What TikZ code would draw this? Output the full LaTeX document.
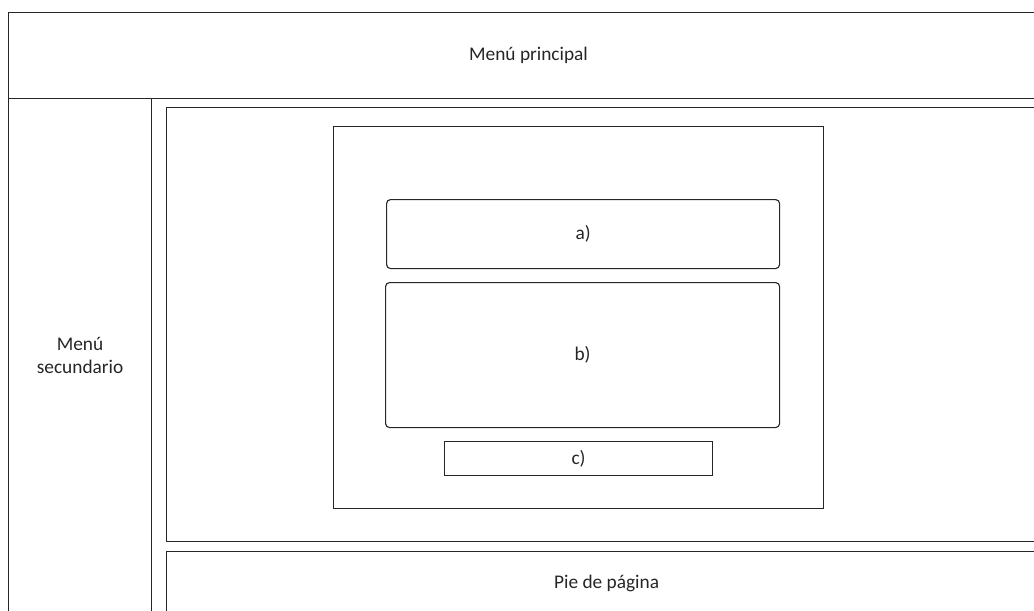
\documentclass[tikz,border=0pt]{standalone}
\usepackage{fontspec}
\setmainfont{Carlito}
\usepackage{tikz}

\begin{document}
\begin{tikzpicture}[x=0.75pt, y=-0.75pt, font=\fontsize{14.5}{17.3}\selectfont, color=black!85,
		box/.style={draw=black!85, line width=0.85pt, inner sep=0pt, anchor=north west, align=center},
		rbox/.style={box, rounded corners=3pt}]
		\def\px{0.75pt}
		\useasboundingbox (0,0) rectangle (1034,610);
		\clip (0,0) rectangle (1034,610);
		% page frame
		\node[box, minimum width=1040*\px, minimum height=86*\px] (header) at (8,12) {Men\'u principal};
		\node[box, minimum width=143*\px, minimum height=514*\px] (side) at (8,98) {Men\'u\\secundario};
		\node[box, minimum width=880*\px, minimum height=434*\px] (content) at (166,107) {};
		\node[box, minimum width=880*\px, minimum height=64*\px] (footer) at (166,551) {Pie de p\'agina};
		% form
		\node[box, minimum width=490*\px, minimum height=382*\px] (form) at (333,126) {};
		\node[rbox, minimum width=393*\px, minimum height=69*\px] (a) at (386,199) {a)};
		\node[rbox, minimum width=394*\px, minimum height=145*\px] (b) at (385,282) {b)};
		\node[box, minimum width=268*\px, minimum height=34*\px] (c) at (444,441) {c)};
	\end{tikzpicture}
\end{document}
